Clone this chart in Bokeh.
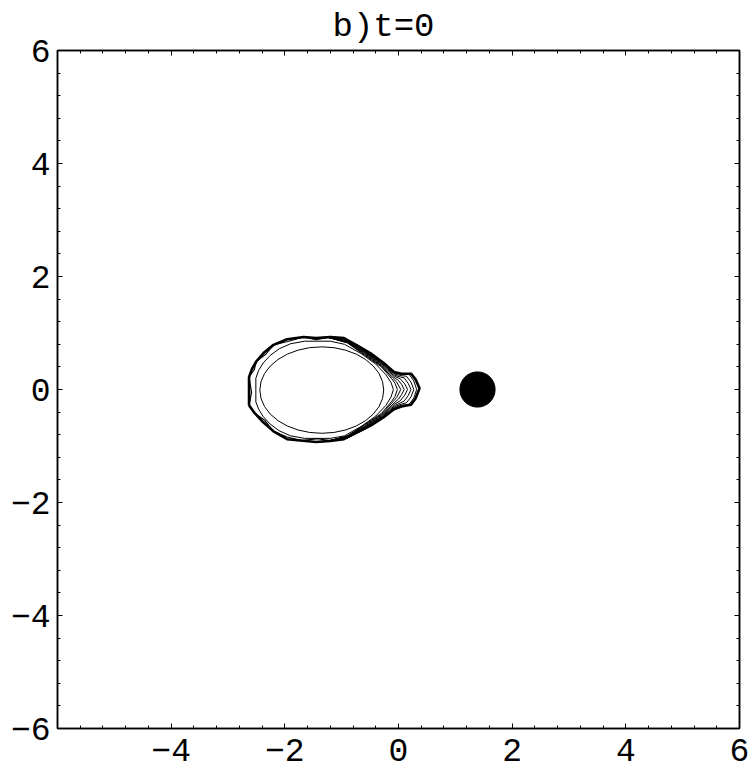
from bokeh.plotting import figure
from bokeh.models import FixedTicker, LinearAxis, Range1d
from bokeh.embed import file_html
from bokeh.resources import INLINE

# ---- data (data coordinates) ----
tick_values = [-6, -4, -2, 0, 2, 4, 6]
y_tick_labels = ["\u22126", "\u22124", "\u22122", "0", "2", "4", "6"]
x_tick_labels = ["", "\u22124", "\u22122", "0", "2", "4", "6"]
minor_values = [-5.6, -5.2, -4.8, -4.4, -3.6, -3.2, -2.8, -2.4, -1.6, -1.2, -0.8, -0.4,
                0.4, 0.8, 1.2, 1.6, 2.4, 2.8, 3.2, 3.6, 4.4, 4.8, 5.2, 5.6]

# outermost (thick) contour
outer_x = [-2.63, -2.63, -2.58, -2.50, -2.36, -2.20, -1.96, -1.67, -1.45, -1.20, -0.96, -0.73,
           -0.49, -0.26, -0.08, 0.05, 0.22, 0.30, 0.37, 0.30, 0.22, 0.05, -0.08, -0.26, -0.49,
           -0.73, -0.96, -1.20, -1.45, -1.96, -2.20, -2.38, -2.53, -2.63]
outer_y = [-0.28, 0.22, 0.36, 0.50, 0.66, 0.79, 0.89, 0.93, 0.91, 0.93, 0.91, 0.78,
           0.64, 0.47, 0.31, 0.28, 0.28, 0.18, 0.02, -0.16, -0.27, -0.30, -0.35, -0.49, -0.64,
           -0.76, -0.88, -0.91, -0.93, -0.88, -0.74, -0.58, -0.42, -0.28]

# second contour, hugging the outer one (forms small islands)
band_x = [-2.63, -2.585, -2.63, -2.54, -2.50, -2.33, -2.20, -1.95, -1.67, -1.45, -1.20, -0.98,
          -0.73, -0.52, -0.26, -0.08, 0.05, 0.22, 0.30, 0.37, 0.30, 0.22, 0.05, -0.08, -0.26,
          -0.47, -0.73, -0.94, -1.20, -1.42, -1.70, -1.96, -2.20, -2.35, -2.53, -2.63]
band_y = [-0.28, -0.05, 0.22, 0.35, 0.50, 0.63, 0.79, 0.85, 0.93, 0.88, 0.93, 0.87,
          0.78, 0.61, 0.47, 0.31, 0.28, 0.28, 0.18, 0.02, -0.16, -0.27, -0.30, -0.35, -0.49,
          -0.60, -0.76, -0.84, -0.91, -0.87, -0.905, -0.84, -0.74, -0.55, -0.42, -0.28]

# third contour (inside the band)
ring_x = [-2.51, -2.51, -2.46, -2.38, -2.26, -2.10, -1.90, -1.65, -1.20, -0.95, -0.65, -0.40,
          -0.22, -0.13, -0.09, -0.13, -0.22, -0.40, -0.65, -0.95, -1.20, -1.65, -1.90, -2.10,
          -2.26, -2.38, -2.46, -2.51]
ring_y = [-0.22, 0.20, 0.34, 0.47, 0.60, 0.72, 0.81, 0.855, 0.855, 0.80, 0.63, 0.45,
          0.26, 0.12, 0.0, -0.13, -0.28, -0.47, -0.65, -0.82, -0.865, -0.865, -0.82, -0.73,
          -0.61, -0.48, -0.35, -0.22]

# nested contours forming the nose on the right
tip_xs = [
    [-1.25, -0.90, -0.60, -0.30, -0.06, 0.05, 0.19, 0.27, 0.32, 0.27, 0.19, 0.05, -0.06, -0.30, -0.60, -0.90, -1.25],
    [-1.25, -0.90, -0.60, -0.30, -0.06, 0.05, 0.14, 0.22, 0.27, 0.22, 0.14, 0.05, -0.06, -0.30, -0.60, -0.90, -1.25],
    [-1.25, -0.90, -0.60, -0.30, -0.06, 0.04, 0.10, 0.17, 0.22, 0.17, 0.10, 0.04, -0.06, -0.30, -0.60, -0.90, -1.25],
    [-1.25, -0.90, -0.60, -0.30, -0.07, 0.03, 0.11, 0.16, 0.11, 0.03, -0.07, -0.30, -0.60, -0.90, -1.25],
    [-1.25, -0.90, -0.60, -0.30, -0.08, 0.0, 0.055, 0.10, 0.055, 0.0, -0.08, -0.30, -0.60, -0.90, -1.25],
    [-1.25, -0.90, -0.60, -0.30, -0.10, -0.03, 0.04, -0.03, -0.10, -0.30, -0.60, -0.90, -1.25],
    [-1.25, -0.90, -0.60, -0.30, -0.12, -0.06, -0.02, -0.06, -0.12, -0.30, -0.60, -0.90, -1.25],
]
tip_ys = [
    [0.925, 0.865, 0.70, 0.49, 0.29, 0.27, 0.265, 0.15, 0.0, -0.15, -0.26, -0.28, -0.32, -0.51, -0.71, -0.86, -0.915],
    [0.925, 0.86, 0.685, 0.475, 0.27, 0.245, 0.235, 0.13, 0.0, -0.13, -0.235, -0.26, -0.30, -0.50, -0.70, -0.855, -0.915],
    [0.925, 0.85, 0.67, 0.46, 0.25, 0.22, 0.205, 0.11, 0.0, -0.11, -0.205, -0.235, -0.28, -0.485, -0.685, -0.845, -0.915],
    [0.925, 0.84, 0.655, 0.445, 0.235, 0.19, 0.10, 0.0, -0.10, -0.20, -0.26, -0.47, -0.67, -0.835, -0.915],
    [0.925, 0.835, 0.64, 0.43, 0.215, 0.16, 0.09, 0.0, -0.09, -0.17, -0.24, -0.455, -0.655, -0.83, -0.915],
    [0.925, 0.83, 0.625, 0.415, 0.20, 0.13, 0.0, -0.14, -0.22, -0.44, -0.64, -0.825, -0.915],
    [0.925, 0.825, 0.61, 0.40, 0.19, 0.11, 0.0, -0.12, -0.21, -0.425, -0.625, -0.82, -0.915],
]

# innermost smooth contour (ellipse)
inner_cx = [-1.35]
inner_cy = [-0.01]
inner_w = [2.18]
inner_h = [1.53]

# filled disk
disk_x = [1.39]
disk_y = [0.0]
disk_r = 0.31

FONT = "Liberation Mono"

p = figure(width=749, height=772, x_range=Range1d(-6, 6), y_range=Range1d(-6, 6),
           output_backend="svg", toolbar_location=None,
           min_border_left=57, min_border_right=10, min_border_top=47, min_border_bottom=44,
           x_axis_location=None, y_axis_location=None)
p.grid.visible = False
p.outline_line_color = "black"
p.outline_line_width = 1.5
p.background_fill_color = "white"
p.border_fill_color = "white"

p.title.text = "b)t=0"
p.title.text_font = FONT
p.title.text_font_size = "34px"
p.title.text_font_style = "normal"
p.title.text_color = "black"
p.title.align = "left"
p.title.offset = 275


def make_axis(labels, standoff):
    ax = LinearAxis(ticker=FixedTicker(ticks=tick_values, minor_ticks=minor_values))
    ax.axis_line_color = "black"
    ax.axis_line_width = 1.5
    ax.major_tick_in = 5
    ax.major_tick_out = 0
    ax.minor_tick_in = 3
    ax.minor_tick_out = 0
    ax.major_tick_line_width = 1
    ax.minor_tick_line_width = 1
    ax.major_tick_line_color = "black"
    ax.minor_tick_line_color = "black"
    if labels is not None:
        ax.major_label_overrides = {v: s for v, s in zip(tick_values, labels)}
        ax.major_label_text_font = FONT
        ax.major_label_text_font_size = "33px"
        ax.major_label_text_color = "black"
        ax.major_label_standoff = standoff
    else:
        ax.major_label_overrides = {v: "" for v in tick_values}
        ax.major_label_text_font_size = "0px"
        ax.major_label_standoff = 0
    return ax


p.add_layout(make_axis(y_tick_labels, 7), "left")
p.add_layout(make_axis(x_tick_labels, 10), "below")
p.add_layout(make_axis(None, 0), "above")
p.add_layout(make_axis(None, 0), "right")

# contours
p.multi_line(xs=tip_xs, ys=tip_ys, line_color="black", line_width=1.0)
p.line(ring_x, ring_y, line_color="black", line_width=1.0)
p.line(band_x, band_y, line_color="black", line_width=1.2)
p.line(outer_x, outer_y, line_color="black", line_width=2.6)
p.ellipse(x=inner_cx, y=inner_cy, width=inner_w, height=inner_h,
          fill_color=None, line_color="black", line_width=1.0)
p.circle(x=disk_x, y=disk_y, radius=disk_r, fill_color="black", line_color="black")

open("out.html", "w").write(file_html(p, INLINE))
